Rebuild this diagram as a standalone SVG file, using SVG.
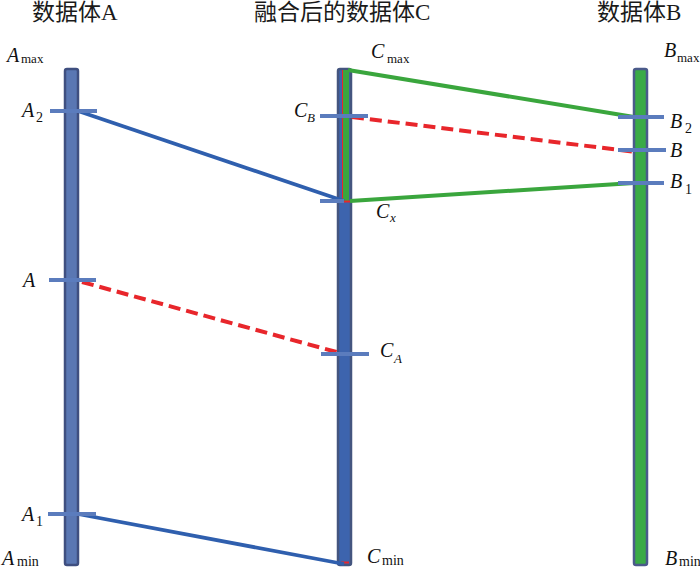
<svg xmlns="http://www.w3.org/2000/svg" width="700" height="571" viewBox="0 0 700 571">
<style>
.title{font-family:"Liberation Serif","Noto Sans CJK SC",serif;font-size:23px;fill:#1a1a1a}
.lbl{font-family:"Liberation Serif",serif;font-style:italic;font-size:20px;fill:#111}
.sub{font-family:"Liberation Serif",serif;font-size:14px;fill:#111}
.sm{font-size:13px}
.subi{font-family:"Liberation Serif",serif;font-style:italic;font-size:13px;fill:#111}
.tick{stroke:#5b7cbd;stroke-width:4}
.blue{stroke:#2f5fae;stroke-width:3.8;fill:none}
.green{stroke:#3aa63d;stroke-width:4;fill:none}
.red{stroke:#e8262b;stroke-width:4;fill:none;stroke-dasharray:12 6}
</style>
<g id="titles">
<text class="title" x="32" y="20">数据体A</text>
<text class="title" x="254" y="20">融合后的数据体C</text>
<text class="title" x="597" y="20">数据体B</text>
</g>
<g id="barA">
<rect x="65" y="69" width="13" height="496" rx="2" fill="#5a77b3" stroke="#3f4f80" stroke-width="2.5"/>
</g>
<g id="barC">
<rect x="338" y="69" width="13" height="496" rx="2" fill="#3d64ae" stroke="#44557f" stroke-width="2.5"/>
<rect x="342" y="70" width="7" height="131" fill="#3aa63d"/>
<line x1="342.5" y1="70" x2="342.5" y2="201" stroke="#e8262b" stroke-width="1"/>
<line x1="342" y1="201.5" x2="350" y2="201.5" stroke="#e8262b" stroke-width="2"/>
<line x1="341" y1="562.5" x2="349" y2="562.5" stroke="#e8262b" stroke-width="2"/>
</g>
<g id="barB">
<rect x="634" y="69" width="13" height="496" rx="2" fill="#3aaa47" stroke="#4a5a8a" stroke-width="2.5"/>
</g>
<g id="connectors">
<line class="blue" x1="78" y1="111" x2="344" y2="201"/>
<line class="blue" x1="78" y1="514" x2="344" y2="564"/>
<line class="red" x1="82" y1="282" x2="340" y2="353"/>
<line class="red" x1="352" y1="117" x2="636" y2="152"/>
<line class="green" x1="348" y1="70" x2="634" y2="117"/>
<line class="green" x1="350" y1="201" x2="634" y2="183"/>
</g>
<g id="ticks">
<line class="tick" x1="50" y1="111" x2="97" y2="111"/>
<line class="tick" x1="49" y1="280" x2="96" y2="280"/>
<line class="tick" x1="48" y1="514" x2="96" y2="514"/>
<line class="tick" x1="320" y1="116" x2="368" y2="116"/>
<line class="tick" x1="320" y1="201" x2="344" y2="201"/>
<line class="tick" x1="321" y1="354" x2="369" y2="354"/>
<line class="tick" x1="618" y1="117" x2="664" y2="117"/>
<line class="tick" x1="618" y1="150" x2="666" y2="150"/>
<line class="tick" x1="618" y1="183" x2="664" y2="183"/>
</g>
<g id="labels">
<text class="lbl" x="7" y="62">A</text><text class="sub sm" x="21" y="63">max</text>
<text class="lbl" x="22" y="117">A</text><text class="sub" x="36" y="122">2</text>
<text class="lbl" x="23" y="287">A</text>
<text class="lbl" x="22" y="521">A</text><text class="sub" x="36" y="526">1</text>
<text class="lbl" x="2" y="565">A</text><text class="sub" x="17" y="566">min</text>
<text class="lbl" x="371" y="58">C</text><text class="sub sm" x="387" y="63">max</text>
<text class="lbl" x="294" y="117">C</text><text class="subi" x="307" y="122">B</text>
<text class="lbl" x="376" y="218">C</text><text class="subi" x="390" y="222">x</text>
<text class="lbl" x="380" y="357">C</text><text class="subi" x="394" y="363">A</text>
<text class="lbl" x="367" y="563">C</text><text class="sub" x="382" y="565">min</text>
<text class="lbl" x="664" y="57">B</text><text class="sub sm" x="677" y="62">max</text>
<text class="lbl" x="670" y="128">B</text><text class="sub" x="685" y="133">2</text>
<text class="lbl" x="670" y="157">B</text>
<text class="lbl" x="670" y="188">B</text><text class="sub" x="685" y="194">1</text>
<text class="lbl" x="665" y="565">B</text><text class="sub" x="679" y="566">min</text>
</g>
</svg>
